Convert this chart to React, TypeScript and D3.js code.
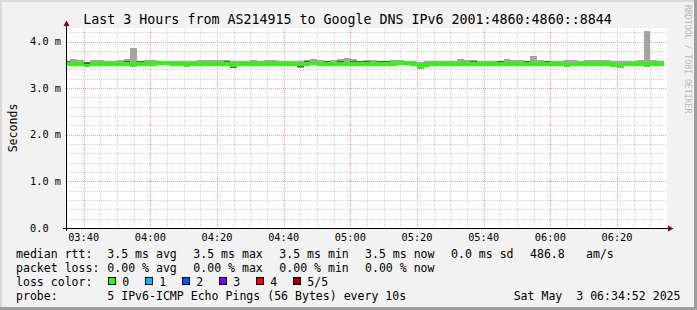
import React from "react";
import * as d3 from "d3";

// ---------------- data (milliseconds, one bin every 2 minutes from 03:34) ----------------
const pingMax = [
  3.59, 3.615, 3.595, 3.565, 3.595, 3.595, 3.585, 3.585, 3.595, 3.615,
  3.87, 3.59, 3.595, 3.595, 3.585, 3.585, 3.585, 3.585, 3.585, 3.585,
  3.605, 3.605, 3.595, 3.595, 3.595, 3.575, 3.585, 3.585, 3.595, 3.585,
  3.595, 3.595, 3.59, 3.59, 3.59, 3.575, 3.595, 3.615, 3.595, 3.59,
  3.595, 3.615, 3.65, 3.615, 3.59, 3.595, 3.595, 3.59, 3.59, 3.595,
  3.605, 3.59, 3.59, 3.565, 3.575, 3.59, 3.59, 3.59, 3.59, 3.635,
  3.595, 3.6, 3.59, 3.59, 3.59, 3.59, 3.635, 3.595, 3.595, 3.59,
  3.69, 3.595, 3.59, 3.585, 3.585, 3.605, 3.605, 3.585, 3.595, 3.595,
  3.595, 3.605, 3.585, 3.585, 3.585, 3.585, 3.595, 4.23, 3.595, 3.585,
];
const pingHigh = [
  3.585, 3.54, 3.54, 3.555, 3.54, 3.54, 3.54, 3.54, 3.54, 3.585,
  3.54, 3.585, 3.54, 3.54, 3.555, 3.545, 3.54, 3.54, 3.54, 3.54,
  3.54, 3.54, 3.54, 3.54, 3.585, 3.52, 3.535, 3.535, 3.54, 3.54,
  3.54, 3.54, 3.54, 3.54, 3.54, 3.525, 3.585, 3.545, 3.54, 3.585,
  3.54, 3.585, 3.54, 3.585, 3.585, 3.585, 3.54, 3.585, 3.585, 3.54,
  3.56, 3.545, 3.54, 3.495, 3.52, 3.535, 3.54, 3.54, 3.54, 3.54,
  3.54, 3.585, 3.54, 3.54, 3.54, 3.585, 3.54, 3.54, 3.54, 3.585,
  3.54, 3.54, 3.585, 3.54, 3.535, 3.52, 3.53, 3.535, 3.54, 3.54,
  3.54, 3.54, 3.52, 3.51, 3.525, 3.535, 3.54, 3.54, 3.54, 3.54,
];
const pingMedian = [
  3.52, 3.52, 3.52, 3.49, 3.52, 3.52, 3.52, 3.52, 3.52, 3.52,
  3.52, 3.52, 3.52, 3.52, 3.535, 3.525, 3.52, 3.52, 3.52, 3.52,
  3.52, 3.52, 3.52, 3.52, 3.52, 3.5, 3.515, 3.515, 3.52, 3.52,
  3.52, 3.52, 3.52, 3.52, 3.52, 3.505, 3.52, 3.525, 3.52, 3.52,
  3.52, 3.52, 3.52, 3.52, 3.52, 3.52, 3.52, 3.52, 3.52, 3.52,
  3.54, 3.525, 3.52, 3.475, 3.5, 3.515, 3.52, 3.52, 3.52, 3.52,
  3.52, 3.52, 3.52, 3.52, 3.52, 3.52, 3.52, 3.52, 3.52, 3.52,
  3.52, 3.52, 3.52, 3.52, 3.515, 3.5, 3.51, 3.515, 3.52, 3.52,
  3.52, 3.52, 3.5, 3.49, 3.505, 3.515, 3.52, 3.52, 3.52, 3.52,
];
const pingLow = [
  3.5, 3.5, 3.5, 3.47, 3.5, 3.5, 3.5, 3.5, 3.5, 3.5,
  3.465, 3.5, 3.5, 3.5, 3.515, 3.505, 3.5, 3.5, 3.465, 3.5,
  3.5, 3.5, 3.5, 3.5, 3.5, 3.44, 3.495, 3.495, 3.5, 3.5,
  3.5, 3.5, 3.5, 3.5, 3.5, 3.445, 3.5, 3.505, 3.5, 3.5,
  3.5, 3.5, 3.5, 3.5, 3.5, 3.5, 3.5, 3.5, 3.5, 3.5,
  3.52, 3.505, 3.5, 3.455, 3.48, 3.495, 3.5, 3.5, 3.5, 3.5,
  3.5, 3.5, 3.5, 3.5, 3.5, 3.5, 3.5, 3.5, 3.5, 3.5,
  3.5, 3.5, 3.5, 3.5, 3.495, 3.48, 3.49, 3.495, 3.5, 3.5,
  3.5, 3.5, 3.48, 3.47, 3.485, 3.495, 3.5, 3.465, 3.5, 3.5,
];
const pingMin = [
  3.49, 3.49, 3.49, 3.46, 3.49, 3.49, 3.49, 3.49, 3.49, 3.49,
  3.46, 3.49, 3.49, 3.49, 3.505, 3.495, 3.49, 3.49, 3.46, 3.49,
  3.49, 3.49, 3.49, 3.49, 3.49, 3.435, 3.485, 3.485, 3.49, 3.49,
  3.49, 3.49, 3.49, 3.49, 3.49, 3.44, 3.49, 3.495, 3.49, 3.49,
  3.49, 3.49, 3.49, 3.49, 3.49, 3.49, 3.49, 3.49, 3.49, 3.49,
  3.51, 3.495, 3.49, 3.42, 3.47, 3.485, 3.49, 3.49, 3.49, 3.49,
  3.49, 3.49, 3.49, 3.49, 3.49, 3.49, 3.49, 3.49, 3.49, 3.49,
  3.49, 3.49, 3.49, 3.49, 3.485, 3.47, 3.48, 3.485, 3.49, 3.49,
  3.49, 3.49, 3.445, 3.43, 3.475, 3.485, 3.49, 3.46, 3.49, 3.49,
];

const yTickValues = [0, 1, 2, 3, 4];
const yTickLabels = ["0.0", "1.0 m", "2.0 m", "3.0 m", "4.0 m"];

const titleText = "Last 3 Hours from AS214915 to Google DNS IPv6 2001:4860:4860::8844";
const rttLegend = ["3.5 ms avg", "3.5 ms max", "3.5 ms min", "3.5 ms now", "0.0 ms sd", "486.8", "am/s"];
const lossLegend = ["0.00 % avg", "0.00 % max", "0.00 % min", "0.00 % now"];
const lossLabels = ["0", "1", "2", "3", "4", "5/5"];
const lossColors = ["#26ff00", "#00b8ff", "#0059ff", "#7e00ff", "#ff0000", "#a00000"];
const probeText = "5 IPv6-ICMP Echo Pings (56 Bytes) every 10s";
const dateText = "Sat May \u00a03 06:34:52 2025";

// ---------------- layout ----------------
const W = 697;
const H = 310;
const L = 67, R = 667, T = 28, B = 228;
const MONO = "'DejaVu Sans Mono', monospace";
const rttX = [107.3, 193.3, 279.3, 365, 451, 530, 586];
const lossX = [107.3, 193.3, 279.3, 365];
const rowY = [257.5, 271.5, 285.5, 299.5];

export default function App() {
  const tStart = new Date(2025, 4, 3, 3, 35);
  const tEnd = new Date(2025, 4, 3, 6, 35);
  const firstBin = new Date(2025, 4, 3, 3, 34);
  const x = d3.scaleTime().domain([tStart, tEnd]).range([L, R]);
  const y = d3.scaleLinear().domain([0, 4.29]).range([B, T]);

  const bins = pingMedian.map((m, i) => {
    const s = d3.timeMinute.offset(firstBin, 2 * i);
    const e = d3.timeMinute.offset(firstBin, 2 * i + 2);
    const x0 = Math.max(L, Math.round(x(s)));
    const x1 = Math.min(R, Math.round(x(e)));
    return { i, x0, x1, m };
  });

  const minorV = d3.timeMinute.every(5)!.range(d3.timeMinute.offset(tStart, 1), tEnd);
  const hVals = d3.range(1, 22);
  const labelTimes = d3.timeMinute.every(20)!.range(d3.timeMinute.offset(tStart, 1), tEnd);
  const fmt = d3.timeFormat("%H:%M");
  const axisCw = 10.3 * 0.602;

  return (
    <svg width={W} height={H} style={{ display: "block", position: "absolute", left: 0, top: 0 }}>
      <rect x={0} y={0} width={W} height={H} fill="#f2f2f2" />
      {/* border shading */}
      <rect x={0} y={0} width={W} height={2} fill="#dadada" />
      <rect x={0} y={0} width={2} height={H} fill="#dadada" />
      <rect x={0} y={H - 3} width={W} height={3} fill="#9e9e9e" />
      <rect x={W - 3} y={0} width={3} height={H} fill="#9e9e9e" />

      {/* canvas */}
      <rect x={L} y={T} width={R - L} height={B - T} fill="#ffffff" />

      {/* grid */}
      <g shapeRendering="crispEdges">
        {hVals.map((k) => {
          const yy = Math.round(y(k * 0.2)) + 0.5;
          const major = k % 5 === 0;
          return (
            <line key={"h" + k} x1={L} x2={R} y1={yy} y2={yy}
              stroke={major ? "#f0a0a0" : "#d2d2d2"} strokeDasharray="1 1" />
          );
        })}
        {minorV.map((t, k) => {
          const xx = Math.round(x(t)) + 0.5;
          const major = t.getMinutes() % 20 === 0;
          return (
            <line key={"v" + k} x1={xx} x2={xx} y1={T} y2={B}
              stroke={major ? "#f0a0a0" : "#d2d2d2"} strokeDasharray="1 1" />
          );
        })}
      </g>

      {/* smoke */}
      <g shapeRendering="crispEdges">
        {bins.map((b) => (
          <rect key={"o" + b.i} x={b.x0} width={b.x1 - b.x0}
            y={y(pingMax[b.i])} height={y(pingMin[b.i]) - y(pingMax[b.i])} fill="#a4a4a4" />
        ))}
        {bins.map((b) => (
          <rect key={"n" + b.i} x={b.x0} width={b.x1 - b.x0}
            y={y(pingHigh[b.i])} height={y(pingLow[b.i]) - y(pingHigh[b.i])} fill="#585858" />
        ))}
        {bins.map((b) => (
          <rect key={"m" + b.i} x={b.x0} width={b.x1 - b.x0}
            y={y(b.m) - 1.75} height={3.5} fill={lossColors[0]} />
        ))}
      </g>

      {/* axes */}
      <g shapeRendering="crispEdges">
        <line x1={63} x2={669} y1={B + 0.5} y2={B + 0.5} stroke="#000" />
        <line x1={L - 0.5} x2={L - 0.5} y1={B + 3} y2={24} stroke="#000" />
      </g>
      <path d={`M668,225.5 L673.5,228.5 L668,231.5 Z`} fill="#8b0000" />
      <path d={`M63.5,26 L66.5,20.5 L69.5,26 Z`} fill="#8b0000" />

      {/* y tick labels */}
      {yTickValues.map((v, k) => (
        <text key={"yl" + k} x={61 - (yTickLabels[k].length < 5 ? 2 * axisCw : 0)} y={y(v) + 3.7}
          textAnchor="end" fontFamily={MONO} fontSize={10.3} fill="#000">
          {yTickLabels[k]}
        </text>
      ))}
      {/* x tick labels */}
      {labelTimes.map((t, k) => (
        <text key={"xl" + k} x={x(t)} y={241.3} textAnchor="middle" fontFamily={MONO}
          fontSize={10.3} fill="#000">
          {fmt(t)}
        </text>
      ))}

      {/* title */}
      <text x={347.5} y={24} textAnchor="middle" fontFamily={MONO} fontSize={13.3} fill="#000">
        {titleText}
      </text>

      {/* vertical axis title */}
      <text transform="translate(16.5,128) rotate(-90)" textAnchor="middle" fontFamily={MONO}
        fontSize={11.56} fill="#000">
        Seconds
      </text>

      {/* watermark */}
      <text transform="translate(685,5) rotate(90)" fontFamily={MONO} fontSize={8.2} fill="#b8b8b8">
        RRDTOOL / TOBI OETIKER
      </text>

      {/* legend */}
      <g fontFamily={MONO} fontSize={11.56} fill="#000">
        <text x={16} y={rowY[0]}>median rtt:</text>
        {rttLegend.map((s, k) => (
          <text key={"r" + k} x={rttX[k]} y={rowY[0]}>{s}</text>
        ))}
        <text x={16} y={rowY[1]}>packet loss:</text>
        {lossLegend.map((s, k) => (
          <text key={"p" + k} x={lossX[k]} y={rowY[1]}>{s}</text>
        ))}
        <text x={16} y={rowY[2]}>loss color:</text>
        {lossLabels.map((s, k) => (
          <g key={"lc" + k}>
            <rect x={108.5 + 37 * k} y={277.5} width={7} height={7} fill={lossColors[k]}
              stroke="#000" strokeWidth={1} shapeRendering="crispEdges" />
            <text x={122.3 + 37 * k} y={rowY[2]}>{s}</text>
          </g>
        ))}
        <text x={16} y={rowY[3]}>probe:</text>
        <text x={107.3} y={rowY[3]}>{probeText}</text>
        <text x={680.5} y={rowY[3]} textAnchor="end">{dateText}</text>
      </g>
    </svg>
  );
}
